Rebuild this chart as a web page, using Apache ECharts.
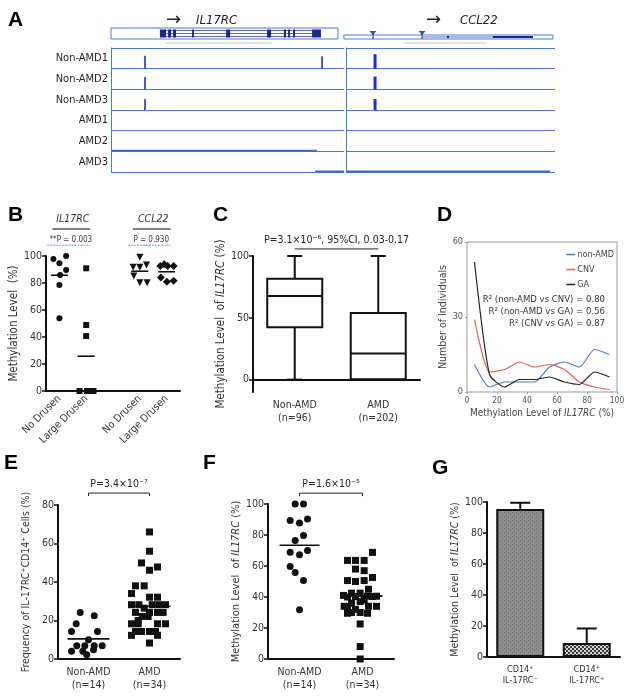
<!DOCTYPE html>
<html>
<head>
<meta charset="utf-8">
<script src="https://cdn.jsdelivr.net/npm/echarts@6.0.0/dist/echarts.min.js"></script>
<style>
html, body { margin: 0; padding: 0; background: #fff; }
#main { width: 629px; height: 698px; }
</style>
</head>
<body>
<div id="main"></div>
<script>
var chart = echarts.init(document.getElementById('main'));

var NARROW = '"Liberation Sans Narrow", "DejaVu Sans Condensed", "Liberation Sans", Arial, sans-serif';
var SANS = '"Liberation Sans", Arial, sans-serif';
var INK = '#111';
var TXT = '#333';
var TRACK = '#4a7bd2';

// ---- A: methylation tracks (x = position in % of the shown window)
var trackNames = ['Non-AMD1', 'Non-AMD2', 'Non-AMD3', 'AMD1', 'AMD2', 'AMD3'];
// [position, track, relative height]
var il17rcPeaks = [[14.6, 0, 0.63], [90.6, 0, 0.6], [14.6, 1, 0.6], [14.6, 2, 0.53]];
var ccl22Peaks = [[13.9, 0, 0.7], [13.9, 1, 0.62], [13.9, 2, 0.53]];
// [track, start, end]
var il17rcCoverage = [[4, 0, 88.4], [5, 87.6, 100]];
var ccl22Coverage = [[5, 0, 97.6]];
// gene models
var il17rcSpan = [0, 97.4];
var il17rcIntrons = [21.0, 90.1];
var il17rcExons = [[21.0, 23.6], [24.5, 25.8], [26.6, 27.9], [34.8, 35.6], [49.4, 51.1], [67.0, 68.7], [74.2, 75.1], [76.0, 76.8], [78.1, 79.0], [86.3, 90.1]];
var il17rcRuler = [23.2, 69.1];
var ccl22Span = [-1, 99];
var ccl22Cpg = [12.9, 36.4];
var ccl22Intron = [36.4, 71.3];
var ccl22Exons = [[48.3, 49.3], [70.3, 89.5]];
var ccl22Ruler = [27.3, 67.5];

// ---- B
var bCategories = ['No Drusen', 'Large Drusen', '', 'No Drusen', 'Large Drusen'];
var bIl17rcNo = [97.8, 100, 94.6, 89.6, 85.9, 78.5, 53.8];
var bIl17rcLarge = [90.9, 48.9, 40.7, 0, 0, 0, 0];
var bCcl22No = [99, 91.6, 91.6, 93.3, 85.2, 80.2, 80.2];
var bCcl22Large = [92.6, 93.8, 92.6, 92.6, 84, 81, 81.7];
var bGeneTitles = ['IL17RC', 'CCL22'];
var bPTexts = ['**P = 0.003', 'P = 0.930'];
// horizontal jitter (px)
var bIl17rcNoJit = [-6, 6.7, 0, 6.7, 0.7, 0, 0];
var bIl17rcLargeJit = [0, 0, 0, -6.7, 0.7, 4, 7.3];
var bCcl22NoJit = [0, -6.7, 0, 6.7, -6, 0, 7.3];
var bCcl22LargeJit = [-6.3, -2.3, 1, 7, -5.7, 0.3, 7];

// ---- C
var cGroups = ['Non-AMD\n(n=96)', 'AMD\n(n=202)'];
var cMin = [0, 0];
var cQ1 = [42.4, 0.3];
var cMedian = [67.7, 21.2];
var cQ3 = [81.5, 53.8];
var cMax = [100, 100];
var cPText = 'P=3.1\u00d710\u207b\u2076, 95%CI, 0.03-0.17';

// ---- D
var dBins = [5, 15, 25, 35, 45, 55, 65, 75, 85, 95];
var dNonAmd = [11, 2, 4, 4, 4, 10, 12, 10, 17, 15];
var dCnv = [29, 8, 9, 12, 10, 11, 9, 4, 2, 1];
var dGa = [52, 7, 2, 5, 5, 6, 4, 3, 8, 6];
var dR2 = ['R\u00b2 (non-AMD vs CNV) = 0.80', 'R\u00b2 (non-AMD vs GA) = 0.56', 'R\u00b2 (CNV vs GA) = 0.87'];

// ---- E
var eGroups = ['Non-AMD\n(n=14)', 'AMD\n(n=34)'];
var eNonAmd = [24.2, 22.5, 18.3, 14.3, 14.3, 10, 6.9, 6.9, 6.9, 6.9, 4, 4, 4.8, 2.2];
var eNonAmdJit = [-8.3, 5.7, -12.3, -17, 9, 0, -11.7, -3.7, 5.7, 13.7, -17, -5.7, 5, -1.7];
var eAmd = [66, 56, 49.9, 47.8, 46.1, 38, 38, 34, 32.1, 32.1, 28.2, 28.2, 28.2, 28.2, 28.2, 26.4, 24.2, 24.2, 24.2, 24.2, 22.1, 22.1, 20, 18.3, 18.3, 18.3, 18.3, 14.3, 14.3, 14.3, 14.3, 12.3, 12.3, 8.3];
var eAmdX = [452, 452, 428, 476, 452, 410, 436, 398, 452, 476, 398, 420, 460, 480, 500, 436, 410, 452, 476, 493, 430, 448, 418, 398, 418, 476, 500, 410, 428, 452, 470, 398, 476, 452];
var ePText = 'P=3.4\u00d710\u207b\u2077';

// ---- F
var fGroups = ['Non-AMD\n(n=14)', 'AMD\n(n=34)'];
var fNonAmd = [100, 100, 89.4, 90.3, 87.7, 79.7, 76.5, 70, 68.8, 67.2, 59.7, 55.8, 50.6, 31.7];
var fNonAmdX = [285, 310, 270, 322, 298, 310, 285, 322, 270, 298, 270, 285, 310, 298];
var fAmd = [68.8, 63.6, 63.6, 63.6, 58, 57, 52.6, 50.6, 50, 50.6, 45, 42.5, 42.5, 41, 40.5, 40.5, 40.3, 40.3, 40, 38, 37, 36, 34, 34, 34, 33.8, 32, 30, 30, 29.5, 29.5, 22.6, 8, 0];
var fAmdX = [515, 440, 464, 490, 464, 490, 515, 440, 464, 490, 503, 452, 478, 428, 500, 527, 464, 515, 440, 490, 478, 452, 430, 503, 527, 440, 464, 452, 478, 440, 500, 478, 478, 478];
var fPText = 'P=1.6\u00d710\u207b\u2075';

// ---- G
var gGroups = ['CD14\u207a\nIL-17RC\u207b', 'CD14\u207a\nIL-17RC\u207a'];
var gMeans = [95.5, 9.1];
var gErrors = [4, 9.3];

function mean(a) { var s = 0; for (var i = 0; i < a.length; i++) s += a[i]; return s / a.length; }
function jitterPx(xs, center) { return xs.map(function (x) { return (x - center) / 3; }); }

function scatterData(cat, vals, offs) {
  return vals.map(function (v, i) { return { value: [cat, v], symbolOffset: [offs[i], 0] }; });
}

function scatter(ai, cat, vals, offs, symbol, size, rot) {
  return {
    type: 'scatter', xAxisIndex: ai, yAxisIndex: ai, symbol: symbol, symbolSize: size,
    symbolRotate: rot || 0, clip: false, z: 4, silent: true,
    itemStyle: { color: INK, opacity: 1 }, data: scatterData(cat, vals, offs)
  };
}

function meanLines(ai, data, halfW) {
  return {
    type: 'custom', xAxisIndex: ai, yAxisIndex: ai, z: 5, silent: true, data: data,
    renderItem: function (p, api) {
      var c = api.coord([api.value(0), api.value(1)]);
      return { type: 'line', shape: { x1: c[0] - halfW, y1: c[1], x2: c[0] + halfW, y2: c[1] },
        style: { stroke: INK, lineWidth: 1.6 } };
    }
  };
}

function bracket(ai, yVal, text, drop, fs) {
  return {
    type: 'custom', xAxisIndex: ai, yAxisIndex: ai, silent: true, data: [[0, 1, yVal]],
    renderItem: function (p, api) {
      var a = api.coord([0, api.value(2)]);
      var b = api.coord([1, api.value(2)]);
      return { type: 'group', children: [
        { type: 'polyline', shape: { points: [[a[0], a[1] + drop], [a[0], a[1]], [b[0], b[1]], [b[0], b[1] + drop]] },
          style: { stroke: '#222', lineWidth: 1, fill: null } },
        { type: 'text', style: { text: text, x: (a[0] + b[0]) / 2, y: a[1] - 3, align: 'center', textAlign: 'center',
          verticalAlign: 'bottom', textVerticalAlign: 'bottom', font: fs + 'px ' + NARROW, fill: '#222' } }
      ] };
    }
  };
}

function blackCatAxis(ai, data, extra) {
  var ax = {
    type: 'category', gridIndex: ai, data: data,
    axisLine: { lineStyle: { color: INK, width: 2 } },
    axisTick: { alignWithLabel: true, length: 4, lineStyle: { color: INK, width: 1.5 } },
    axisLabel: { color: TXT, fontSize: 10.5, fontFamily: NARROW, lineHeight: 13, margin: 7 },
    splitLine: { show: false }
  };
  return Object.assign(ax, extra || {});
}

function blackValAxis(ai, min, max, interval, name, gap, fs, extra) {
  var ax = {
    type: 'value', gridIndex: ai, min: min, max: max, interval: interval,
    name: name, nameLocation: 'middle', nameGap: gap, nameRotate: 90,
    nameTextStyle: {
      fontSize: fs, fontFamily: NARROW, color: TXT,
      rich: {
        n: { fontSize: fs, fontFamily: NARROW, color: TXT },
        i: { fontSize: fs, fontFamily: NARROW, color: TXT, fontStyle: 'italic' }
      }
    },
    axisLine: { show: true, lineStyle: { color: INK, width: 2 } },
    axisTick: { show: true, length: 4, lineStyle: { color: INK, width: 1.5 } },
    axisLabel: { color: TXT, fontSize: 10.5, fontFamily: NARROW, margin: 4 },
    splitLine: { show: false }
  };
  return Object.assign(ax, extra || {});
}

function trackRender(w) {
  return function (p, api) {
    var c = api.coord([api.value(0), api.value(1)]);
    var band = api.size([0, 1])[1];
    var bottom = c[1] + band / 2;
    var h = api.value(2) * band;
    return { type: 'rect', shape: { x: c[0] - w / 2, y: bottom - h, width: w, height: h }, style: { fill: '#1b2fd8' } };
  };
}

function coverageRender(p, api) {
  var a = api.coord([api.value(1), api.value(0)]);
  var b = api.coord([api.value(2), api.value(0)]);
  var band = api.size([0, 1])[1];
  var bottom = a[1] + band / 2;
  return { type: 'rect', shape: { x: a[0], y: bottom - 1.5, width: b[0] - a[0], height: 2 }, style: { fill: '#3b6cc9' } };
}

function pattern(bg, fg, cell, checker) {
  var c = document.createElement('canvas');
  c.width = cell * 2; c.height = cell * 2;
  var ctx = c.getContext('2d');
  ctx.fillStyle = bg; ctx.fillRect(0, 0, c.width, c.height);
  ctx.fillStyle = fg;
  if (checker) { ctx.fillRect(0, 0, cell, cell); ctx.fillRect(cell, cell, cell, cell); }
  else { ctx.fillRect(0, 0, 1, 1); ctx.fillRect(cell, cell, 1, 1); }
  return c;
}

var axisNameRich = function (pre, post) { return '{n|' + pre + '}{i|IL17RC}{n|' + post + '}'; };

var option = {
  animation: false,
  backgroundColor: '#fff',
  textStyle: { fontFamily: NARROW },
  grid: [
    { left: 111, top: 28, width: 233, height: 11 },
    { left: 346, top: 28, width: 209, height: 11 },
    { left: 111, top: 48, width: 233, height: 124 },
    { left: 346, top: 48, width: 209, height: 124 },
    { left: 46, top: 256, width: 134, height: 135 },
    { left: 253, top: 256, width: 167, height: 136 },
    { left: 467, top: 242, width: 150, height: 150, show: true, borderColor: '#999', borderWidth: 1, backgroundColor: 'transparent' },
    { left: 58, top: 505, width: 122, height: 154 },
    { left: 268, top: 504, width: 126, height: 155 },
    { left: 487, top: 502, width: 133, height: 155 }
  ],
  xAxis: [
    { type: 'value', gridIndex: 0, min: 0, max: 100, show: false },
    { type: 'value', gridIndex: 1, min: 0, max: 100, show: false },
    { type: 'value', gridIndex: 2, min: 0, max: 100, show: false },
    { type: 'value', gridIndex: 3, min: 0, max: 100, show: false },
    blackCatAxis(4, bCategories, { axisLabel: { color: TXT, fontSize: 10.5, fontFamily: NARROW, rotate: 45, margin: 6, interval: 0 } }),
    blackCatAxis(5, cGroups),
    {
      type: 'value', gridIndex: 6, min: 0, max: 100, interval: 20,
      name: axisNameRich('Methylation Level of ', ' (%)'), nameLocation: 'middle', nameGap: 16,
      nameTextStyle: { rich: {
        n: { fontSize: 10, fontFamily: NARROW, color: '#444' },
        i: { fontSize: 10, fontFamily: NARROW, color: '#444', fontStyle: 'italic' } } },
      axisLine: { show: false }, splitLine: { show: false },
      axisTick: { show: true, length: 2, lineStyle: { color: '#999' } },
      axisLabel: { color: '#555', fontSize: 8.5, fontFamily: NARROW, margin: 4 }
    },
    blackCatAxis(7, eGroups),
    blackCatAxis(8, fGroups),
    blackCatAxis(9, gGroups, { axisLabel: { color: TXT, fontSize: 9, fontFamily: NARROW, lineHeight: 11, margin: 7 } })
  ],
  yAxis: [
    { type: 'value', gridIndex: 0, min: 0, max: 11, show: false },
    { type: 'value', gridIndex: 1, min: 0, max: 11, show: false },
    {
      type: 'category', gridIndex: 2, data: trackNames, inverse: true,
      axisLine: { lineStyle: { color: TRACK, width: 1 } },
      axisTick: { alignWithLabel: true, length: 3, lineStyle: { color: '#777' } },
      axisLabel: { color: '#222', fontSize: 11, fontFamily: NARROW, margin: 3 },
      splitLine: { show: true, lineStyle: { color: TRACK, width: 1.2 } }
    },
    {
      type: 'category', gridIndex: 3, data: trackNames, inverse: true,
      axisLine: { lineStyle: { color: TRACK, width: 1 } },
      axisTick: { alignWithLabel: true, length: 2, lineStyle: { color: '#777' } },
      axisLabel: { show: false },
      splitLine: { show: true, lineStyle: { color: TRACK, width: 1.2 } }
    },
    blackValAxis(4, 0, 100, 20, 'Methylation Level  (%)', 23, 11.5),
    blackValAxis(5, -10, 100, 10, axisNameRich('Methylation Level  of ', ' (%)'), 22, 11.5, {
      axisTick: { show: true, length: 4, customValues: [0, 50, 100], lineStyle: { color: INK, width: 1.5 } },
      axisLabel: { color: TXT, fontSize: 10.5, fontFamily: NARROW, margin: 4, customValues: [0, 50, 100] }
    }),
    {
      type: 'value', gridIndex: 6, min: 0, max: 60, interval: 30,
      name: 'Number of Individuals', nameLocation: 'middle', nameGap: 17, nameRotate: 90,
      nameTextStyle: { fontSize: 10.5, fontFamily: NARROW, color: '#444' },
      axisLine: { show: false }, splitLine: { show: false },
      axisTick: { show: true, length: 2, lineStyle: { color: '#999' } },
      axisLabel: { color: '#555', fontSize: 9, fontFamily: NARROW, margin: 4 }
    },
    blackValAxis(7, 0, 80, 20, 'Frequency of IL-17RC\u207aCD14\u207a Cells (%)', 26, 10.5),
    blackValAxis(8, 0, 100, 20, axisNameRich('Methylation Level  of ', ' (%)'), 25, 11),
    blackValAxis(9, 0, 100, 20, axisNameRich('Methylation Level  of ', ' (%)'), 26, 10.5)
  ],
  legend: {
    data: ['non-AMD', 'CNV', 'GA'], orient: 'vertical', right: 10, top: 245,
    icon: 'rect', itemWidth: 9, itemHeight: 1.5, itemGap: 6, selectedMode: false,
    textStyle: { fontSize: 9, color: '#444', fontFamily: NARROW, padding: [0, 0, 0, -3] }
  },
  graphic: [
    { type: 'text', left: 8, top: 10, style: { text: 'A', font: 'bold 21px ' + SANS, fill: '#000' } },
    { type: 'text', left: 8, top: 205, style: { text: 'B', font: 'bold 21px ' + SANS, fill: '#000' } },
    { type: 'text', left: 213, top: 205, style: { text: 'C', font: 'bold 21px ' + SANS, fill: '#000' } },
    { type: 'text', left: 437, top: 205, style: { text: 'D', font: 'bold 21px ' + SANS, fill: '#000' } },
    { type: 'text', left: 4, top: 453, style: { text: 'E', font: 'bold 21px ' + SANS, fill: '#000' } },
    { type: 'text', left: 203, top: 453, style: { text: 'F', font: 'bold 21px ' + SANS, fill: '#000' } },
    { type: 'text', left: 432, top: 458, style: { text: 'G', font: 'bold 21px ' + SANS, fill: '#000' } },
    { type: 'text', left: 166, top: 11, style: { text: '\u2192', font: '18px "DejaVu Sans", sans-serif', fill: '#222' } },
    { type: 'text', left: 196, top: 14, style: { text: 'IL17RC', font: 'italic 13px ' + NARROW, fill: '#222' } },
    { type: 'text', left: 426, top: 11, style: { text: '\u2192', font: '18px "DejaVu Sans", sans-serif', fill: '#222' } },
    { type: 'text', left: 460, top: 14, style: { text: 'CCL22', font: 'italic 13px ' + NARROW, fill: '#222' } },
    { type: 'text', right: 24, top: 295, style: { text: dR2[0], font: '9.5px ' + NARROW, fill: '#333' } },
    { type: 'text', right: 24, top: 307, style: { text: dR2[1], font: '9.5px ' + NARROW, fill: '#333' } },
    { type: 'text', right: 24, top: 319, style: { text: dR2[2], font: '9.5px ' + NARROW, fill: '#333' } }
  ],
  series: [
    // A gene models
    {
      type: 'custom', xAxisIndex: 0, yAxisIndex: 0, silent: true, data: [[0, 0]],
      renderItem: function (p, api) {
        var lo = api.coord([il17rcSpan[0], 0]), hi = api.coord([il17rcSpan[1], 11]);
        var ch = [{ type: 'rect', shape: { x: lo[0], y: hi[1], width: hi[0] - lo[0], height: lo[1] - hi[1] },
          style: { fill: '#fff', stroke: TRACK, lineWidth: 1 } }];
        [2.5, 5.5, 8.5].forEach(function (yy) {
          var a = api.coord([il17rcIntrons[0], yy]), b = api.coord([il17rcIntrons[1], yy]);
          ch.push({ type: 'line', shape: { x1: a[0], y1: a[1], x2: b[0], y2: b[1] }, style: { stroke: '#3a46b0', lineWidth: 0.8 } });
        });
        il17rcExons.forEach(function (e) {
          var a = api.coord([e[0], 1.5]), b = api.coord([e[1], 9.5]);
          ch.push({ type: 'rect', shape: { x: a[0], y: b[1], width: Math.max(b[0] - a[0], 1.3), height: a[1] - b[1] }, style: { fill: '#1c2590' } });
        });
        var r0 = api.coord([il17rcRuler[0], -4]), r1 = api.coord([il17rcRuler[1], -4]);
        ch.push({ type: 'line', shape: { x1: r0[0], y1: r0[1], x2: r1[0], y2: r1[1] }, style: { stroke: '#bbb', lineWidth: 0.8 } });
        return { type: 'group', children: ch };
      }
    },
    {
      type: 'custom', xAxisIndex: 1, yAxisIndex: 1, silent: true, data: [[0, 0]],
      renderItem: function (p, api) {
        var lo = api.coord([ccl22Span[0], 0]), hi = api.coord([ccl22Span[1], 4]);
        var ch = [{ type: 'rect', shape: { x: lo[0], y: hi[1], width: hi[0] - lo[0], height: lo[1] - hi[1] },
          style: { fill: '#fff', stroke: TRACK, lineWidth: 1 } }];
        var a = api.coord([ccl22Intron[0], 2]), b = api.coord([ccl22Intron[1], 2]);
        ch.push({ type: 'line', shape: { x1: a[0], y1: a[1], x2: b[0], y2: b[1] }, style: { stroke: '#3a46b0', lineWidth: 0.8 } });
        ccl22Exons.forEach(function (e) {
          var s = api.coord([e[0], 1]), t = api.coord([e[1], 3]);
          ch.push({ type: 'rect', shape: { x: s[0], y: t[1], width: Math.max(t[0] - s[0], 1.3), height: s[1] - t[1] }, style: { fill: '#1c2590' } });
        });
        ccl22Cpg.forEach(function (x) {
          var c = api.coord([x, 6]);
          ch.push({ type: 'polygon', shape: { points: [[c[0] - 3.5, c[1] - 2], [c[0] + 3.5, c[1] - 2], [c[0], c[1] + 2]] }, style: { fill: '#2e5aa8' } });
          var d = api.coord([x, 0]);
          ch.push({ type: 'line', shape: { x1: c[0], y1: c[1], x2: d[0], y2: d[1] }, style: { stroke: '#1c2590', lineWidth: 1 } });
        });
        var r0 = api.coord([ccl22Ruler[0], -4]), r1 = api.coord([ccl22Ruler[1], -4]);
        ch.push({ type: 'line', shape: { x1: r0[0], y1: r0[1], x2: r1[0], y2: r1[1] }, style: { stroke: '#bbb', lineWidth: 0.8 } });
        return { type: 'group', children: ch };
      }
    },
    // A tracks
    { type: 'custom', xAxisIndex: 2, yAxisIndex: 2, silent: true, data: il17rcPeaks, renderItem: trackRender(1.6) },
    { type: 'custom', xAxisIndex: 2, yAxisIndex: 2, silent: true, data: il17rcCoverage, encode: { x: [1, 2], y: 0 }, renderItem: coverageRender },
    { type: 'custom', xAxisIndex: 3, yAxisIndex: 3, silent: true, data: ccl22Peaks, renderItem: trackRender(3) },
    { type: 'custom', xAxisIndex: 3, yAxisIndex: 3, silent: true, data: ccl22Coverage, encode: { x: [1, 2], y: 0 }, renderItem: coverageRender },

    // B
    scatter(4, 0, bIl17rcNo, bIl17rcNoJit, 'circle', 6),
    scatter(4, 1, bIl17rcLarge, bIl17rcLargeJit, 'rect', 6),
    scatter(4, 3, bCcl22No, bCcl22NoJit, 'triangle', 7, 180),
    scatter(4, 4, bCcl22Large, bCcl22LargeJit, 'diamond', 8),
    meanLines(4, [[0, mean(bIl17rcNo)], [1, mean(bIl17rcLarge)], [3, mean(bCcl22No)], [4, mean(bCcl22Large)]], 8.5),
    {
      type: 'custom', xAxisIndex: 4, yAxisIndex: 4, silent: true, data: [[0, 1], [3, 4]],
      renderItem: function (p, api) {
        var a = api.coord([api.value(0), 120]), b = api.coord([api.value(1), 120]);
        var mid = (a[0] + b[0]) / 2;
        var py = api.coord([0, 108])[1];
        return { type: 'group', children: [
          { type: 'text', style: { text: bGeneTitles[p.dataIndex], x: mid, y: a[1] - 4, align: 'center', textAlign: 'center',
            verticalAlign: 'bottom', textVerticalAlign: 'bottom', font: 'italic 10.5px ' + NARROW, fill: '#333' } },
          { type: 'line', shape: { x1: a[0] - 7, y1: a[1], x2: b[0] + 4, y2: a[1] }, style: { stroke: '#555', lineWidth: 1.5 } },
          { type: 'text', style: { text: bPTexts[p.dataIndex], x: mid - 2, y: py - 1, align: 'center', textAlign: 'center',
            verticalAlign: 'bottom', textVerticalAlign: 'bottom', font: '8px ' + NARROW, fill: '#333' } },
          { type: 'line', shape: { x1: a[0] - 12, y1: py, x2: b[0] + 4, y2: py }, style: { stroke: '#6a8fd8', lineWidth: 1, lineDash: [2, 1] } }
        ] };
      }
    },

    // C box plot
    {
      type: 'custom', xAxisIndex: 5, yAxisIndex: 5, silent: true,
      data: cGroups.map(function (g, i) { return [i, cMin[i], cQ1[i], cMedian[i], cQ3[i], cMax[i]]; }),
      renderItem: function (p, api) {
        var x = api.value(0);
        var pMin = api.coord([x, api.value(1)]), pQ1 = api.coord([x, api.value(2)]), pMed = api.coord([x, api.value(3)]);
        var pQ3 = api.coord([x, api.value(4)]), pMax = api.coord([x, api.value(5)]);
        var hw = 27.5, cw = 7.5, cx = pMin[0];
        var st = { stroke: INK, lineWidth: 2, fill: null };
        return { type: 'group', children: [
          { type: 'line', shape: { x1: cx, y1: pMax[1], x2: cx, y2: pQ3[1] }, style: st },
          { type: 'line', shape: { x1: cx, y1: pQ1[1], x2: cx, y2: pMin[1] }, style: st },
          { type: 'line', shape: { x1: cx - cw, y1: pMax[1], x2: cx + cw, y2: pMax[1] }, style: st },
          { type: 'line', shape: { x1: cx - cw, y1: pMin[1], x2: cx + cw, y2: pMin[1] }, style: st },
          { type: 'rect', shape: { x: cx - hw, y: pQ3[1], width: 2 * hw, height: pQ1[1] - pQ3[1] }, style: { stroke: INK, lineWidth: 2, fill: '#fff' } },
          { type: 'line', shape: { x1: cx - hw, y1: pMed[1], x2: cx + hw, y2: pMed[1] }, style: st }
        ] };
      }
    },
    bracket(5, 105.7, cPText, 0, 10.5),

    // D
    { type: 'line', name: 'non-AMD', xAxisIndex: 6, yAxisIndex: 6, smooth: 0.2, showSymbol: false, color: '#4f7fc4',
      lineStyle: { width: 1.2 }, data: dBins.map(function (x, i) { return [x, dNonAmd[i]]; }) },
    { type: 'line', name: 'CNV', xAxisIndex: 6, yAxisIndex: 6, smooth: 0.2, showSymbol: false, color: '#e0605a',
      lineStyle: { width: 1.2 }, data: dBins.map(function (x, i) { return [x, dCnv[i]]; }) },
    { type: 'line', name: 'GA', xAxisIndex: 6, yAxisIndex: 6, smooth: 0.2, showSymbol: false, color: '#222',
      lineStyle: { width: 1.2 }, data: dBins.map(function (x, i) { return [x, dGa[i]]; }) },

    // E
    scatter(7, 0, eNonAmd, eNonAmdJit, 'circle', 7),
    scatter(7, 1, eAmd, jitterPx(eAmdX, 452), 'rect', 7),
    meanLines(7, [[0, mean(eNonAmd)], [1, mean(eAmd)]], 21),
    bracket(7, 86.2, ePText, 3, 10.5),

    // F
    scatter(8, 0, fNonAmd, jitterPx(fNonAmdX, 298), 'circle', 7),
    scatter(8, 1, fAmd, jitterPx(fAmdX, 485), 'rect', 7),
    meanLines(8, [[0, mean(fNonAmd)], [1, mean(fAmd)]], 20),
    bracket(8, 107, fPText, 3, 10.5),

    // G
    {
      type: 'bar', xAxisIndex: 9, yAxisIndex: 9, barWidth: 48, silent: true,
      data: gMeans.map(function (v, i) {
        return { value: v, itemStyle: {
          color: i === 0 ? { image: pattern('#8e8e8e', '#6f6f6f', 2, false), repeat: 'repeat' }
                         : { image: pattern('#d4d4d4', '#3c3c3c', 2, true), repeat: 'repeat' },
          borderColor: INK, borderWidth: 2 } };
      })
    },
    {
      type: 'custom', xAxisIndex: 9, yAxisIndex: 9, silent: true, z: 3,
      data: gMeans.map(function (v, i) { return [i, v, gErrors[i]]; }),
      renderItem: function (p, api) {
        var a = api.coord([api.value(0), api.value(1)]);
        var b = api.coord([api.value(0), api.value(1) + api.value(2)]);
        var st = { stroke: INK, lineWidth: 2 };
        return { type: 'group', children: [
          { type: 'line', shape: { x1: a[0], y1: a[1], x2: b[0], y2: b[1] }, style: st },
          { type: 'line', shape: { x1: b[0] - 10, y1: b[1], x2: b[0] + 10, y2: b[1] }, style: st }
        ] };
      }
    }
  ]
};

chart.setOption(option);
</script>
</body>
</html>
